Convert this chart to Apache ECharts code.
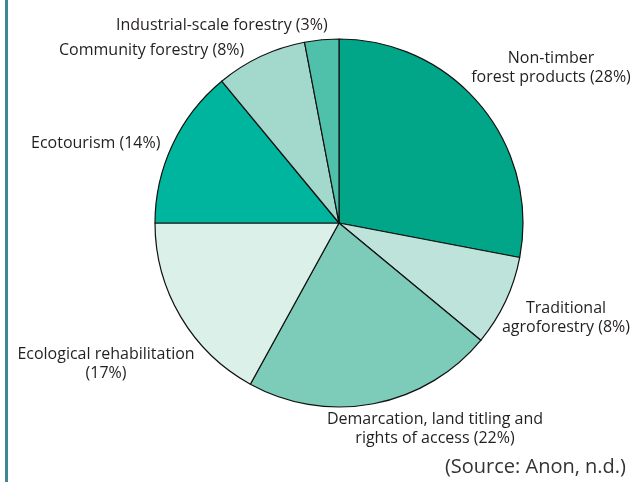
<!DOCTYPE html>
<html><head><meta charset="utf-8">
<script src="https://cdn.jsdelivr.net/npm/echarts@6/dist/echarts.min.js"></script>
<style>html,body{margin:0;padding:0;background:#fff}#c{width:634px;height:482px}</style>
</head><body><div id="c"></div>
<script>
const categories = ["Non-timber\nforest products", "Traditional\nagroforestry", "Demarcation, land titling and\nrights of access", "Ecological rehabilitation\n", "Ecotourism", "Community forestry", "Industrial-scale forestry"];
const values = [28, 8, 22, 17, 14, 8, 3];
const colors = ["#00a687", "#bde3da", "#7dcbb9", "#dcf0ea", "#00b59d", "#a3d8cc", "#4fc0a9"];
// label anchor positions [x, y, align]
const labelPos = [[551, 68, "center"], [566, 318, "center"], [435, 429, "center"], [106, 364, "center"], [31, 143, "left"], [59, 50, "left"], [116, 25, "left"]];

const chart = echarts.init(document.getElementById('c'), null, {renderer: 'canvas'});
function fmt(p) {
  const n = categories[p.dataIndex];
  if (n.endsWith("\n")) return n + "(" + p.value + "%)";
  return n + " (" + p.value + "%)";
}
chart.setOption({
  animation: false,
  backgroundColor: '#fff',
  graphic: [{type: 'line', shape: {x1: 6.5, y1: 0, x2: 6.5, y2: 482}, style: {stroke: '#3b8a93', lineWidth: 3}},
    {type: 'text', right: 8, top: 457, style: {text: '(Source: Anon, n.d.)', font: '20px "Open Sans"', fill: '#333'}}],
  series: [{
    type: 'pie',
    center: [339, 223],
    radius: 184,
    startAngle: 90,
    clockwise: true,
    data: values.map((v, i) => ({value: v, name: categories[i], itemStyle: {color: colors[i]}})),
    itemStyle: {borderColor: '#111', borderWidth: 1.2},
    label: {show: true, formatter: fmt, fontFamily: 'Open Sans', fontSize: 16, color: '#231f20', lineHeight: 19, align: 'center', overflow: 'none', width: 400},
    labelLine: {show: false},
    labelLayout: function (p) {
      const lp = labelPos[p.dataIndex];
      return {x: lp[0], y: lp[1], align: lp[2], verticalAlign: 'middle'};
    },
    emphasis: {disabled: true}
  }]
});
</script></body></html>
